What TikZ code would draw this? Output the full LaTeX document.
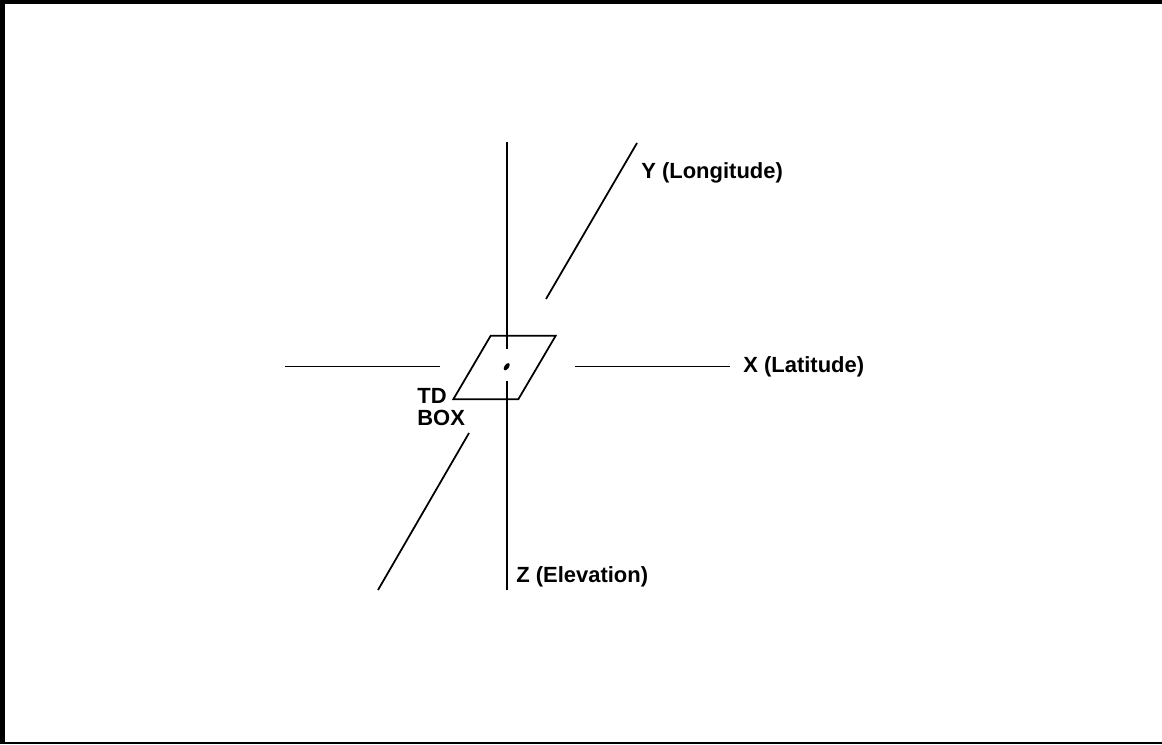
\documentclass[tikz,border=0pt]{standalone}
\usepackage{fontspec}
\setmainfont{Liberation Sans}
\usepackage{tikz}
\usetikzlibrary{shapes.geometric, positioning, calc}

\begin{document}
\begin{tikzpicture}[
  x=0.02cm, y=-0.02cm,
  axis/.style={line width=1pt, line cap=butt},
  lbl/.style={anchor=west, inner sep=0pt, font=\fontsize{12.5}{12.5}\selectfont\bfseries}
]
  \useasboundingbox (0,0) rectangle (1162,744);
  % frame
  \fill (0,0) rectangle (1162,4);
  \fill (0,0) rectangle (5,744);
  \fill (0,742) rectangle (1162,744);

  % axis ends
  \coordinate (ztop) at (507,142);
  \coordinate (zup)  at (507,349);
  \coordinate (zlow) at (507,381);
  \coordinate (zbot) at (507,590);
  \coordinate (xl1) at (285,366.5);
  \coordinate (xl2) at (440,366.5);
  \coordinate (xr1) at (575,366.5);
  \coordinate (xr2) at (730,366.5);
  \coordinate (yu1) at (546,299);
  \coordinate (yu2) at (637,143);
  \coordinate (yl1) at (378,590);
  \coordinate (yl2) at (469,433);

  % TD box
  \coordinate (b1) at (490.7,335.7);
  \coordinate (b2) at (555.7,335.7);
  \coordinate (b3) at (518.3,399.3);
  \coordinate (b4) at (453.3,399.3);
  \draw[axis, line join=miter] (b1) -- (b2) -- (b3) -- (b4) -- cycle;
  \node[fill, ellipse, minimum width=0.09cm, minimum height=0.17cm, inner sep=0pt,
        rotate=-35] (dot) at (506.7,366.7) {};

  \draw[axis] (ztop) -- (zup);
  \draw[axis] (zlow) -- (zbot);
  \draw[axis] (xl1) -- (xl2);
  \draw[axis] (xr1) -- (xr2);
  \draw[axis] (yu1) -- (yu2);
  \draw[axis] (yl1) -- (yl2);

  % labels
  \node[lbl] (ylab) at (641,172.5) {Y (Longitude)};
  \node[lbl] (xlab) at (743,367) {X (Latitude)};
  \node[lbl] (zlab) at (516,576.5) {Z (Elevation)};
  \node[lbl, align=left, anchor=north west] (tdbox) at (417,388) {TD\\BOX};
\end{tikzpicture}
\end{document}
